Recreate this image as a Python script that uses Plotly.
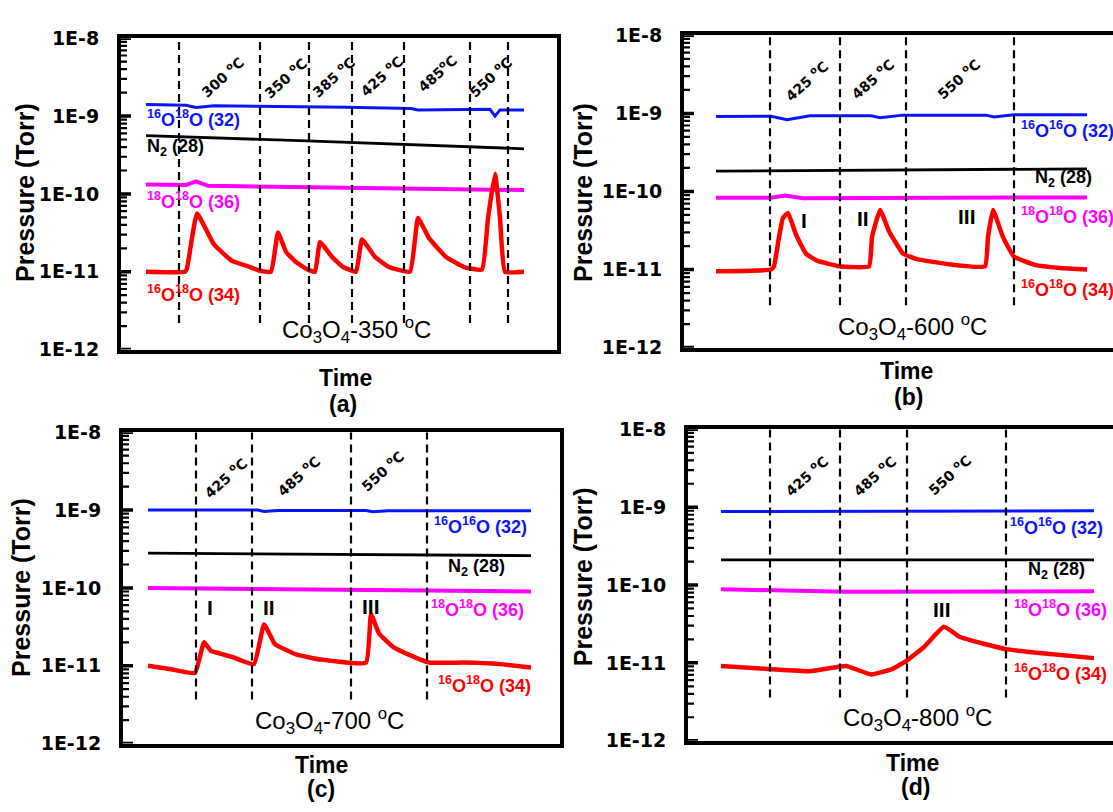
import plotly.graph_objects as go

W, H = 1113, 812

# ---------------- data (time in arbitrary units, pressure in Torr) ----------------
# Panel (a) Co3O4-350 C
a_t_red = [0, 39, 41, 51, 68, 86, 104, 114, 125, 132, 140, 150, 161, 169, 174, 186, 197, 210, 216, 229, 243,
           264, 272, 283, 300, 318, 336, 342, 349, 354, 359, 378]
a_p_red = [1.0e-11, 1.0e-11, 1.1e-11, 5.6e-11, 2.24e-11, 1.38e-11, 1.15e-11, 1.03e-11, 1.0e-11, 3.2e-11, 1.8e-11,
           1.33e-11, 1.08e-11, 1.0e-11, 2.4e-11, 1.55e-11, 1.15e-11, 1.0e-11, 2.6e-11, 1.55e-11, 1.15e-11,
           1.0e-11, 4.9e-11, 2.7e-11, 1.55e-11, 1.15e-11, 1.07e-11, 4.9e-11, 1.82e-10, 4.9e-11, 1.0e-11, 1.0e-11]
a_t_blue = [0, 40, 50, 68, 200, 265, 272, 344, 349, 354, 378]
a_p_blue = [1.41e-9, 1.38e-9, 1.29e-9, 1.36e-9, 1.3e-9, 1.25e-9, 1.2e-9, 1.22e-9, 1.0e-9, 1.2e-9, 1.2e-9]
a_t_black = [0, 161, 378]
a_p_black = [5.6e-10, 4.8e-10, 3.8e-10]
a_t_mag = [0, 40, 50, 62, 378]
a_p_mag = [1.32e-10, 1.3e-10, 1.45e-10, 1.27e-10, 1.12e-10]
a_switch = [33, 114, 163, 206, 258, 324, 362]
a_temps = ["300 <sup>o</sup>C", "350 <sup>o</sup>C", "385 <sup>o</sup>C", "425 <sup>o</sup>C",
           "485<sup>o</sup>C", "550 <sup>o</sup>C"]

# Panel (b) Co3O4-600 C
b_t_red = [0, 55, 58, 63, 67, 72, 80, 90, 101, 123, 153, 156, 164, 173, 187, 201, 237, 269, 272, 277, 287,
           298, 319, 344, 371]
b_p_red = [9.5e-12, 1.0e-11, 1.1e-11, 2.6e-11, 4.6e-11, 5.3e-11, 2.8e-11, 1.6e-11, 1.3e-11, 1.1e-11, 1.1e-11,
           2.6e-11, 5.8e-11, 3.1e-11, 1.6e-11, 1.36e-11, 1.15e-11, 1.1e-11, 2.6e-11, 5.8e-11, 2.6e-11,
           1.46e-11, 1.15e-11, 1.05e-11, 1.0e-11]
b_t_blue = [0, 55, 71, 94, 155, 164, 187, 270, 278, 298, 371]
b_p_blue = [9.1e-10, 9.2e-10, 8.3e-10, 9.3e-10, 9.3e-10, 8.8e-10, 9.5e-10, 9.5e-10, 9.0e-10, 9.6e-10, 9.6e-10]
b_t_black = [0, 371]
b_p_black = [1.82e-10, 1.95e-10]
b_t_mag = [0, 55, 69, 87, 371]
b_p_mag = [8.3e-11, 8.3e-11, 8.9e-11, 8.2e-11, 8.4e-11]
b_switch = [54, 124, 190, 298]
b_temps = ["425 <sup>o</sup>C", "485 <sup>o</sup>C", "550 <sup>o</sup>C"]

# Panel (c) Co3O4-700 C
c_t_red = [0, 23, 47, 56, 63, 84, 106, 116, 127, 148, 173, 218, 223, 231, 245, 263, 281, 316, 352, 383]
c_p_red = [1.0e-11, 9.0e-12, 8.1e-12, 2.0e-11, 1.55e-11, 1.3e-11, 1.05e-11, 3.4e-11, 1.9e-11, 1.4e-11,
           1.2e-11, 1.1e-11, 4.6e-11, 2.6e-11, 1.75e-11, 1.35e-11, 1.1e-11, 1.1e-11, 1.05e-11, 9.5e-12]
c_t_blue = [0, 110, 116, 130, 218, 225, 240, 383]
c_p_blue = [1.0e-9, 1.0e-9, 9.6e-10, 9.9e-10, 9.9e-10, 9.5e-10, 9.8e-10, 9.8e-10]
c_t_black = [0, 383]
c_p_black = [2.8e-10, 2.6e-10]
c_t_mag = [0, 383]
c_p_mag = [1.0e-10, 9.0e-11]
c_switch = [48, 104, 203, 279]
c_temps = ["425 <sup>o</sup>C", "485 <sup>o</sup>C", "550 <sup>o</sup>C"]

# Panel (d) Co3O4-800 C
d_t_red = [0, 50, 89, 125, 150, 171, 185, 203, 223, 239, 260, 285, 321, 373]
d_p_red = [9.1e-12, 8.3e-12, 7.8e-12, 9.1e-12, 7.1e-12, 8.3e-12, 1.05e-11, 1.6e-11, 2.9e-11, 2.15e-11,
           1.8e-11, 1.5e-11, 1.33e-11, 1.15e-11]
d_t_blue = [0, 373]
d_p_blue = [8.8e-10, 9.0e-10]
d_t_black = [0, 373]
d_p_black = [2.1e-10, 2.1e-10]
d_t_mag = [0, 125, 373]
d_p_mag = [8.8e-11, 8.2e-11, 8.3e-11]
d_switch = [49, 119, 186, 285]
d_temps = ["425 <sup>o</sup>C", "485 <sup>o</sup>C", "550 <sup>o</sup>C"]

tick_vals = [1e-12, 1e-11, 1e-10, 1e-9, 1e-8]
tick_text = ["1E-12", "1E-11", "1E-10", "1E-9", "1E-8"]
minor_mult = [2, 3, 4, 5, 6, 7, 8, 9]
minor_vals = [m * d for d in tick_vals[:-1] for m in minor_mult]

# ---------------- layout helpers ----------------
def px(x):
    return x / W

def py(y):
    return 1 - y / H

ARIAL = "Liberation Sans"
DEJA = "DejaVu Sans"

panels = [
    dict(ax="", frame=(121, 28, 557, 348), start=146, dbot=2.2e-12, mirror_y=True,
         red=(a_t_red, a_p_red), blue=(a_t_blue, a_p_blue), black=(a_t_black, a_p_black),
         mag=(a_t_mag, a_p_mag), sw=a_switch, temps=a_temps,
         temp_pos=[(222, 68), (285, 69), (333, 68), (381, 67), (437, 64), (490, 68)],
         roman=[],
         lab_blue=("<sup>16</sup>O<sup>18</sup>O (32)", 145, 110),
         lab_black=("N<sub>2</sub> (28)", 145, 140),
         lab_mag=("<sup>18</sup>O<sup>18</sup>O (36)", 145, 195),
         lab_red=("<sup>16</sup>O<sup>18</sup>O (34)", 145, 290),
         title=("Co<sub>3</sub>O<sub>4</sub>-350 <sup>o</sup>C", 356, 328),
         ytitle=(25, 187), time=(345, 377), letter=("(a)", 343, 404)),
    dict(ax="2", frame=(684, 25, 1113, 346), start=716, dbot=3.5e-12, mirror_y=False,
         red=(b_t_red, b_p_red), blue=(b_t_blue, b_p_blue), black=(b_t_black, b_p_black),
         mag=(b_t_mag, b_p_mag), sw=b_switch, temps=b_temps,
         temp_pos=[(806, 72), (872, 70), (958, 70)],
         roman=[("I", 804, 215), ("II", 863, 213), ("III", 967, 211)],
         lab_blue=("<sup>16</sup>O<sup>16</sup>O (32)", 1019, 122),
         lab_black=("N<sub>2</sub> (28)", 1033, 172),
         lab_mag=("<sup>18</sup>O<sup>18</sup>O (36)", 1019, 210),
         lab_red=("<sup>16</sup>O<sup>18</sup>O (34)", 1019, 285),
         title=("Co<sub>3</sub>O<sub>4</sub>-600 <sup>o</sup>C", 912, 325),
         ytitle=(583, 187), time=(906, 370), letter=("(b)", 908, 397)),
    dict(ax="3", frame=(123, 433, 560, 753), start=148, dbot=3.7e-12, mirror_y=True,
         red=(c_t_red, c_p_red), blue=(c_t_blue, c_p_blue), black=(c_t_black, c_p_black),
         mag=(c_t_mag, c_p_mag), sw=c_switch, temps=c_temps,
         temp_pos=[(225, 480), (298, 478), (382, 473)],
         roman=[("I", 210, 613), ("II", 269, 613), ("III", 371, 612)],
         lab_blue=("<sup>16</sup>O<sup>16</sup>O (32)", 432, 529),
         lab_black=("N<sub>2</sub> (28)", 446, 572),
         lab_mag=("<sup>18</sup>O<sup>18</sup>O (36)", 429, 614),
         lab_red=("<sup>16</sup>O<sup>18</sup>O (34)", 436, 692),
         title=("Co<sub>3</sub>O<sub>4</sub>-700 <sup>o</sup>C", 329, 730),
         ytitle=(21, 593), time=(321, 775), letter=("(c)", 321, 800)),
    dict(ax="4", frame=(688, 430, 1113, 750), start=721, dbot=3.6e-12, mirror_y=False,
         red=(d_t_red, d_p_red), blue=(d_t_blue, d_p_blue), black=(d_t_black, d_p_black),
         mag=(d_t_mag, d_p_mag), sw=d_switch, temps=d_temps,
         temp_pos=[(806, 478), (874, 478), (949, 477)],
         roman=[("III", 942, 615)],
         lab_blue=("<sup>16</sup>O<sup>16</sup>O (32)", 1008, 530),
         lab_black=("N<sub>2</sub> (28)", 1026, 575),
         lab_mag=("<sup>18</sup>O<sup>18</sup>O (36)", 1012, 614),
         lab_red=("<sup>16</sup>O<sup>18</sup>O (34)", 1012, 680),
         title=("Co<sub>3</sub>O<sub>4</sub>-800 <sup>o</sup>C", 917, 727),
         ytitle=(583, 582), time=(912, 773), letter=("(d)", 915, 798)),
]

fig = go.Figure()
annotations = []
layout = dict(width=W, height=H, margin=dict(l=0, r=0, t=0, b=0),
              paper_bgcolor="white", plot_bgcolor="white", showlegend=False)

COL = dict(red="#ff0000", blue="#0a14ff", black="#000000", mag="#ff00ff")
LW = dict(red=4.5, blue=3, black=2.8, mag=4)

for p in panels:
    ax = p["ax"]
    l, t, r, b = p["frame"]
    xa, ya = "x" + ax, "y" + ax
    x_left = l - p["start"]
    for key in ["mag", "black", "blue", "red"]:
        tt, pp = p[key]
        shape = "spline" if key == "red" else "linear"
        fig.add_trace(go.Scatter(x=tt, y=pp, mode="lines", xaxis=xa, yaxis=ya,
                                 line=dict(color=COL[key], width=LW[key], shape=shape, smoothing=0.35),
                                 hoverinfo="skip"))
    for s in p["sw"]:
        fig.add_trace(go.Scatter(x=[s, s], y=[p["dbot"], 1e-8], mode="lines", xaxis=xa, yaxis=ya,
                                 line=dict(color="black", width=2.2, dash="8px,5px"), hoverinfo="skip"))
    # inward-facing tick marks on the left frame (major and minor log ticks)
    for vals, ln, wd in [(tick_vals, 10, 3.5), (minor_vals, 6, 2.2)]:
        tx, ty = [], []
        for v in vals:
            tx += [x_left, x_left + ln, None]
            ty += [v, v, None]
        fig.add_trace(go.Scatter(x=tx, y=ty, mode="lines", xaxis=xa, yaxis=ya, cliponaxis=False,
                                 line=dict(color="black", width=wd), hoverinfo="skip"))
    layout["xaxis" + ax] = dict(domain=[px(l), px(r)], range=[x_left, r - p["start"]],
                                anchor=ya, showline=True, linewidth=4, linecolor="black", mirror=True,
                                showticklabels=False, ticks="", showgrid=False, zeroline=False)
    layout["yaxis" + ax] = dict(domain=[py(b), py(t)], type="log", range=[-12, -8], anchor=xa,
                                showline=True, linewidth=4, linecolor="black", mirror=p["mirror_y"],
                                tickmode="array", tickvals=tick_vals, ticktext=tick_text,
                                ticks="", ticklabelstandoff=14,
                                tickfont=dict(family=DEJA, size=19, color="black", weight="bold"),
                                showgrid=False, zeroline=False)

    def ann(text, x, y, size, color="black", bold=True, xanchor="center", angle=0, family=ARIAL):
        txt = "<b>" + text + "</b>" if bold else text
        annotations.append(dict(text=txt, x=px(x), y=py(y), xref="paper", yref="paper",
                                xanchor=xanchor, yanchor="middle", showarrow=False, textangle=angle,
                                font=dict(family=family, size=size, color=color)))

    for txt, (x, y) in zip(p["temps"], p["temp_pos"]):
        ann(txt, x, y, 14, angle=-42, family=DEJA)
    for txt, x, y in p["roman"]:
        ann(txt, x, y, 21)
    ann(p["lab_blue"][0], p["lab_blue"][1], p["lab_blue"][2], 18, COL["blue"], xanchor="left")
    ann(p["lab_black"][0], p["lab_black"][1], p["lab_black"][2], 18, "black", xanchor="left")
    ann(p["lab_mag"][0], p["lab_mag"][1], p["lab_mag"][2], 18, COL["mag"], xanchor="left")
    ann(p["lab_red"][0], p["lab_red"][1], p["lab_red"][2], 18, COL["red"], xanchor="left")
    ann(p["title"][0], p["title"][1], p["title"][2], 24, bold=False)
    ann("Pressure (Torr)", p["ytitle"][0], p["ytitle"][1], 25, angle=-90)
    ann("Time", p["time"][0], p["time"][1], 23)
    ann(p["letter"][0], p["letter"][1], p["letter"][2], 23)

layout["annotations"] = annotations
fig.update_layout(**layout)
fig.write_html("out.html")
